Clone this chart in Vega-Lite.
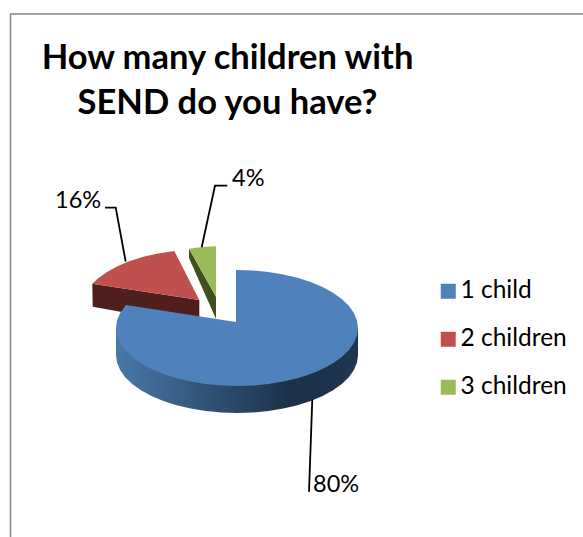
{
  "$schema": "https://vega.github.io/schema/vega-lite/v6.json",
  "width": 583,
  "height": 537,
  "autosize": {"type": "none"},
  "padding": 0,
  "background": "white",
  "view": {"stroke": null},
  "title": {
    "text": ["How many children with", "SEND do you have?"],
    "font": "Lato",
    "fontWeight": "bold",
    "fontSize": 34.5,
    "lineHeight": 45,
    "color": "black",
    "anchor": "middle",
    "dx": -64,
    "baseline": "alphabetic",
    "offset": -148
  },
  "projection": {"type": "identity", "reflectY": true, "scale": 1, "translate": [237, 328]},
  "datasets": {
    "faces": [
      {"type": "Feature", "category": "1 child", "share": 0.8, "geometry": {"type": "Polygon", "coordinates": [[[-1,6],[-1,58],[15.8,57.5],[31.3,56],[46.3,53.6],[60.5,50.2],[73.7,46],[85.6,41],[96,35.3],[104.8,29],[111.8,22.2],[116.9,15],[120,7.6],[121,0],[120,-7.6],[116.9,-15],[111.8,-22.2],[104.8,-29],[96,-35.3],[85.6,-41],[73.7,-46],[60.5,-50.2],[46.3,-53.6],[31.3,-56],[15.8,-57.5],[0,-58],[-15.8,-57.5],[-31.3,-56],[-46.3,-53.6],[-60.5,-50.2],[-73.7,-46],[-85.6,-41],[-96,-35.3],[-104.8,-29],[-111.8,-22.2],[-116.9,-15],[-120,-7.6],[-121,0],[-120,7.6],[-116.9,15],[-111,23],[-1,6]]]}},
      {"type": "Feature", "category": "2 children", "share": 0.16, "geometry": {"type": "Polygon", "coordinates": [[[-37.7,28],[-144.7,44.2],[-138.8,49.7],[-130,56],[-119.6,61.7],[-107.7,66.7],[-94.5,70.9],[-80.3,74.3],[-62.7,77],[-37.7,28]]]}},
      {"type": "Feature", "category": "3 children", "share": 0.04, "geometry": {"type": "Polygon", "coordinates": [[[-21,31.3],[-48,79.3],[-35,81],[-21,81.7],[-21,31.3]]]}}
    ],
    "sides": [
      {"type": "Feature", "category": "1 child", "geometry": {"type": "Polygon", "coordinates": [[[121,0],[121,-27],[120,-34.6],[116.9,-42],[111.8,-49.2],[104.8,-56],[96,-62.3],[85.6,-68],[73.7,-73],[60.5,-77.2],[46.3,-80.6],[31.3,-83],[15.8,-84.5],[0,-85],[-15.8,-84.5],[-31.3,-83],[-46.3,-80.6],[-60.5,-77.2],[-73.7,-73],[-85.6,-68],[-96,-62.3],[-104.8,-56],[-111.8,-49.2],[-116.9,-42],[-120,-34.6],[-121,-27],[-121,0],[121,0]]]}},
      {"type": "Feature", "category": "2 children", "geometry": {"type": "Polygon", "coordinates": [[[-144.7,44.2],[-37.7,28],[-37.7,2],[-144.3,21.3],[-144.7,44.2]]]}},
      {"type": "Feature", "category": "3 children", "geometry": {"type": "Polygon", "coordinates": [[[-48,79.3],[-21,31.3],[-21,9],[-48,70],[-48,79.3]]]}}
    ],
    "leaders": [
      {"type": "Feature", "category": "1 child", "geometry": {"type": "LineString", "coordinates": [[75.3,-71.3],[72,-163.7]]}},
      {"type": "Feature", "category": "2 children", "geometry": {"type": "LineString", "coordinates": [[-111.3,66.3],[-121.3,120.3],[-132,120.3]]}},
      {"type": "Feature", "category": "3 children", "geometry": {"type": "LineString", "coordinates": [[-35.3,80.7],[-22,142.3],[-9.7,142.3]]}}
    ],
    "labels": [
      {"category": "1 child", "share": 0.8, "lon": 76, "lat": -163.5},
      {"category": "2 children", "share": 0.16, "lon": -182, "lat": 120},
      {"category": "3 children", "share": 0.04, "lon": -5, "lat": 142}
    ],
    "frame": [
      {"type": "Feature", "geometry": {"type": "LineString", "coordinates": [[-226.5,-215],[-226.5,314],[352,314]]}}
    ]
  },
  "layer": [
    {
      "data": {"name": "frame"},
      "mark": {"type": "geoshape", "filled": false, "stroke": "#868686", "strokeWidth": 1.5},
      "encoding": {}
    },
    {
      "data": {"name": "sides"},
      "transform": [{"filter": "datum.category === '2 children'"}],
      "mark": {"type": "geoshape", "fill": "#4f1f1e"},
      "encoding": {}
    },
    {
      "data": {"name": "sides"},
      "transform": [{"filter": "datum.category === '3 children'"}],
      "mark": {"type": "geoshape", "fill": "#414f22"},
      "encoding": {}
    },
    {
      "data": {"name": "sides"},
      "transform": [{"filter": "datum.category === '1 child'"}],
      "mark": {
        "type": "geoshape",
        "fill": {
          "gradient": "linear",
          "x1": 0, "y1": 0, "x2": 1, "y2": 0,
          "stops": [
            {"offset": 0, "color": "#4a78a8"},
            {"offset": 0.72, "color": "#1c3049"},
            {"offset": 1, "color": "#1e364f"}
          ]
        }
      },
      "encoding": {}
    },
    {
      "data": {"name": "faces"},
      "mark": {"type": "geoshape"},
      "encoding": {
        "color": {
          "field": "category",
          "type": "nominal",
          "scale": {"domain": ["1 child", "2 children", "3 children"], "range": ["#4f81bd", "#c0504d", "#9bbb59"]},
          "legend": {
            "orient": "none",
            "legendX": 436,
            "legendY": 279,
            "title": null,
            "symbolType": "square",
            "symbolSize": 225,
            "symbolStrokeWidth": 0,
            "labelFont": "Lato",
            "labelFontSize": 24.5,
            "labelColor": "black",
            "labelOffset": 0,
            "rowPadding": 23
          }
        }
      }
    },
    {
      "data": {"name": "leaders"},
      "mark": {"type": "geoshape", "filled": false, "stroke": "black", "strokeWidth": 1.8},
      "encoding": {}
    },
    {
      "data": {"name": "labels"},
      "mark": {"type": "text", "font": "Lato", "fontSize": 23.5, "color": "black", "baseline": "alphabetic", "align": "left"},
      "encoding": {
        "longitude": {"field": "lon", "type": "quantitative"},
        "latitude": {"field": "lat", "type": "quantitative"},
        "text": {"field": "share", "type": "quantitative", "format": ".0%"}
      }
    }
  ]
}
